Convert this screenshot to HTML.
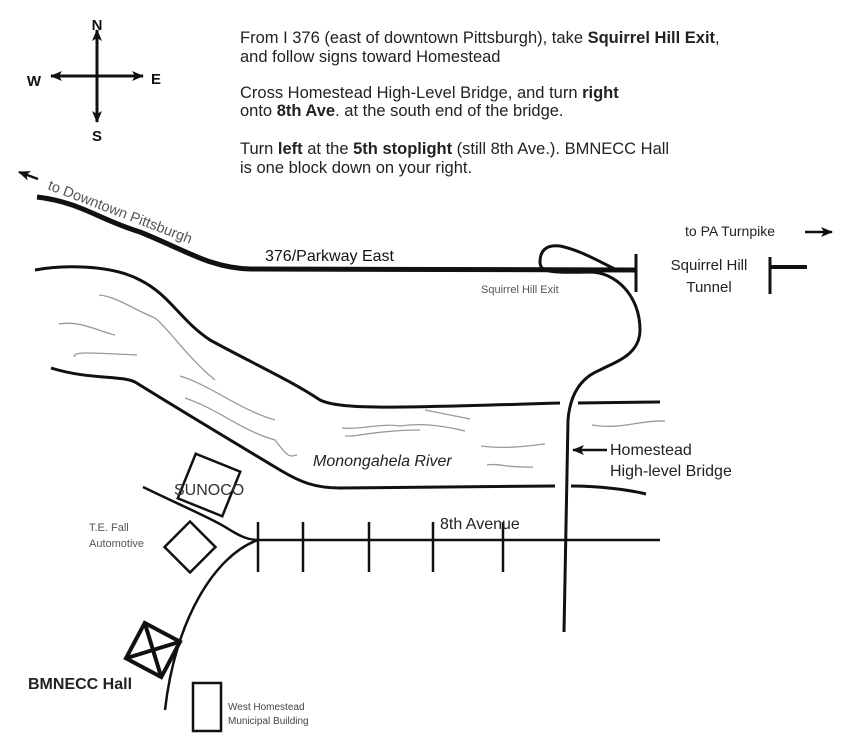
<!DOCTYPE html>
<html><head><meta charset="utf-8"><style>
body{margin:0;background:#fff}
svg{display:block;font-family:"Liberation Sans",sans-serif}
</style></head><body>
<svg width="850" height="752" viewBox="0 0 850 752" xmlns="http://www.w3.org/2000/svg">
<defs>
<marker id="ah" markerWidth="12" markerHeight="10" refX="11" refY="5" orient="auto" markerUnits="userSpaceOnUse"><path d="M0,0 L12,5 L0,10 L3,5z" fill="#111"/></marker>
</defs>
<g stroke="#111" stroke-width="3" fill="none">
<line x1="97" y1="76" x2="97" y2="30" marker-end="url(#ah)"/>
<line x1="97" y1="76" x2="97" y2="122" marker-end="url(#ah)"/>
<line x1="97" y1="76" x2="51" y2="76" marker-end="url(#ah)"/>
<line x1="97" y1="76" x2="143" y2="76" marker-end="url(#ah)"/>
</g>
<g font-weight="bold" font-size="15" fill="#111" text-anchor="middle">
<text x="97" y="30">N</text><text x="97" y="141">S</text><text x="34" y="86">W</text><text x="156" y="84">E</text>
</g>
<g font-size="16.5" fill="#222" transform="translate(240,0)">
<text x="0" y="43">From I 376 (east of downtown Pittsburgh), take <tspan font-weight="bold">Squirrel Hill Exit</tspan>,</text>
<text x="0" y="62">and  follow signs toward Homestead</text>
<text x="0" y="98">Cross Homestead High-Level Bridge, and turn <tspan font-weight="bold">right</tspan></text>
<text x="0" y="116">onto <tspan font-weight="bold">8th Ave</tspan>. at the south end of the bridge.</text>
<text x="0" y="154">Turn <tspan font-weight="bold">left</tspan> at the <tspan font-weight="bold">5th stoplight</tspan> (still 8th Ave.). BMNECC Hall</text>
<text x="0" y="173">is one block down on your right.</text>
</g>
<line x1="38" y1="179" x2="19" y2="172" stroke="#111" stroke-width="2.5" marker-end="url(#ah)"/>
<text x="47" y="189" font-size="14.5" fill="#555" transform="rotate(21 47 189)">to Downtown Pittsburgh</text>
<path d="M37,197 C80,202 100,220 140,232 C185,250 210,268 250,269 L636,270" stroke="#111" stroke-width="5" fill="none"/>
<line x1="636" y1="254" x2="636" y2="292" stroke="#111" stroke-width="3"/>
<text x="265" y="261" font-size="16" fill="#111">376/Parkway East</text>
<text x="481" y="293" font-size="11" fill="#555">Squirrel Hill Exit</text>
<path d="M617,270 C600,262 580,250 560,246 C545,244 540,252 540,262 C540,272 550,273 590,272 C615,272 640,295 640,330 C640,355 615,362 600,370 C580,378 570,395 568,420 L564,632" stroke="#111" stroke-width="3" fill="none"/>
<text x="709" y="270" font-size="15" fill="#222" text-anchor="middle">Squirrel Hill</text>
<text x="709" y="292" font-size="15" fill="#222" text-anchor="middle">Tunnel</text>
<line x1="770" y1="257" x2="770" y2="294" stroke="#111" stroke-width="3"/>
<line x1="770" y1="267" x2="807" y2="267" stroke="#111" stroke-width="4"/>
<text x="685" y="236" font-size="14" fill="#222">to PA Turnpike</text>
<line x1="805" y1="232" x2="832" y2="232" stroke="#111" stroke-width="2.5" marker-end="url(#ah)"/>
<g stroke="#111" stroke-width="3" fill="none">
<path d="M35,270 C60,265 110,264 140,280 C170,295 180,320 210,340 C250,362 290,380 320,400 C340,410 400,408 560,403"/>
<path d="M578,403 L660,402"/>
<path d="M51,368 C90,380 120,375 135,382 C180,410 230,440 280,470 C300,482 315,488 340,488 L555,486"/>
<path d="M571,486 C600,486 630,490 646,494"/>
</g>
<g stroke="#999" stroke-width="1.3" fill="none">
<path d="M99,295 C115,296 135,310 155,318 C170,330 185,355 215,380"/>
<path d="M59,324 C80,320 100,332 115,335"/>
<path d="M74,357 C75,352 80,352 137,355"/>
<path d="M180,376 C210,385 240,410 275,420"/>
<path d="M185,398 C220,410 240,430 275,440 C290,460 290,456 297,455"/>
<path d="M342,428 C360,430 380,423 400,426 C420,423 440,425 465,431"/>
<path d="M345,436 L353,436 C365,434 390,430 420,430"/>
<path d="M425,410 L470,419"/>
<path d="M481,446 C510,450 540,444 545,444"/>
<path d="M592,425 C620,430 640,420 665,421"/>
<path d="M487,465 C500,463 505,468 533,467"/>
</g>
<text x="313" y="466" font-size="16" font-style="italic" fill="#222">Monongahela River</text>
<line x1="607" y1="450" x2="573" y2="450" stroke="#111" stroke-width="2.5" marker-end="url(#ah)"/>
<text x="610" y="455" font-size="16" fill="#222">Homestead</text>
<text x="610" y="476" font-size="16" fill="#222">High-level Bridge</text>
<line x1="258" y1="540" x2="660" y2="540" stroke="#111" stroke-width="2.5"/>
<g stroke="#111" stroke-width="2.5">
<line x1="258" y1="522" x2="258" y2="572"/><line x1="303" y1="522" x2="303" y2="572"/>
<line x1="369" y1="522" x2="369" y2="572"/><line x1="433" y1="522" x2="433" y2="572"/>
<line x1="503" y1="522" x2="503" y2="572"/>
</g>
<text x="440" y="529" font-size="16" fill="#222">8th Avenue</text>
<path d="M143,487 C180,505 215,520 230,530 C240,536 248,540 258,540" stroke="#111" stroke-width="2.5" fill="none"/>
<path d="M258,540 C215,555 175,620 165,710" stroke="#111" stroke-width="2.5" fill="none"/>
<rect x="185" y="461" width="48" height="48" transform="rotate(22 209 485)" stroke="#111" stroke-width="2.5" fill="none"/>
<text x="174" y="495" font-size="16" fill="#333">SUNOCO</text>
<rect x="172" y="529" width="36" height="36" transform="rotate(45 190 547)" stroke="#111" stroke-width="2.5" fill="none"/>
<text x="89" y="531" font-size="11" fill="#555">T.E. Fall</text>
<text x="89" y="547" font-size="11" fill="#555">Automotive</text>
<g transform="rotate(28 153 650)" stroke="#111" stroke-width="4" fill="none">
<rect x="133" y="630" width="40" height="40"/>
<line x1="133" y1="630" x2="173" y2="670"/><line x1="173" y1="630" x2="133" y2="670"/>
</g>
<text x="28" y="689" font-size="16" font-weight="bold" fill="#222">BMNECC Hall</text>
<rect x="193" y="683" width="28" height="48" stroke="#111" stroke-width="2.5" fill="none"/>
<text x="228" y="710" font-size="10" fill="#444">West Homestead</text>
<text x="228" y="724" font-size="10" fill="#444">Municipal Building</text>
</svg>
</body></html>
